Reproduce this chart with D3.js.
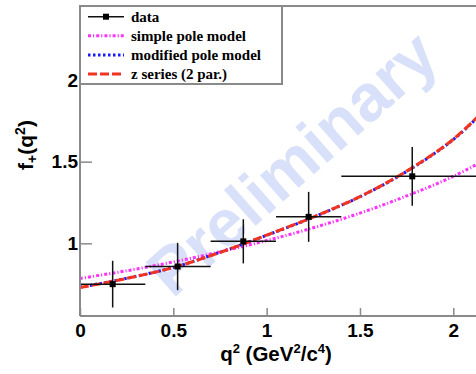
<!DOCTYPE html>
<html>
<head>
<meta charset="utf-8">
<script src="https://cdn.jsdelivr.net/npm/d3@7"></script>
<style>
  html, body { margin: 0; padding: 0; background: #fff; }
  svg { display: block; }
</style>
</head>
<body>
<svg id="chart" width="476" height="374"></svg>
<script>
// Measured form factor f+(q^2) per q^2 bin
const q2Center = [0.175, 0.523, 0.875, 1.225, 1.78];
const q2Low    = [0.0, 0.35, 0.70, 1.05, 1.40];
const q2High   = [0.35, 0.70, 1.05, 1.40, 2.16];
const fPlus    = [0.75, 0.858, 1.012, 1.162, 1.41];
const fPlusErr = [0.143, 0.145, 0.135, 0.153, 0.18];

// Fitted curves sampled along q^2
const curveQ2       = [0, 0.25, 0.5, 0.75, 1.0, 1.25, 1.5, 1.75, 2.0, 2.2];
const simplePole    = [0.785, 0.832, 0.886, 0.948, 1.017, 1.095, 1.185, 1.29, 1.41, 1.53];
const modifiedPole  = [0.731, 0.786, 0.852, 0.945, 1.049, 1.16, 1.285, 1.44, 1.635, 1.85];
const zSeries       = [0.729, 0.785, 0.852, 0.944, 1.05, 1.161, 1.286, 1.442, 1.637, 1.855];

// Axis ticks
const xTicks = [0, 0.5, 1, 1.5, 2];
const xTickLabels = ["0", "0.5", "1", "1.5", "2"];
const yTicks = [1, 1.5, 2];
const yTickLabels = ["1", "1.5", "2"];

const legendLabels = ["data", "simple pole model", "modified pole model", "z series (2 par.)"];

(function draw() {
  const svg = d3.select("#chart");
  const padL = 80, padT = 6, padB = 316, padR = 490;

  const x = d3.scaleLinear().domain([0, 2.2]).range([padL, padL + 2.2 * 186.65]);
  const y = d3.scaleLinear().domain([0.555, 2.453]).range([padB, padT]);

  const axisColor = "#8a8a8a";
  const sans = "Liberation Sans, Arial, Helvetica, sans-serif";

  svg.append("defs").append("clipPath").attr("id", "plotClip")
    .append("rect").attr("x", padL).attr("y", padT).attr("width", padR - padL).attr("height", padB - padT);

  // Watermark
  svg.append("text")
    .attr("transform", "translate(292,163) rotate(-41.5)")
    .attr("text-anchor", "middle")
    .attr("dominant-baseline", "central")
    .attr("font-family", sans)
    .attr("font-weight", "bold")
    .attr("font-size", 66)
    .attr("fill", "#d9e0f9")
    .text("Preliminary");

  const plot = svg.append("g").attr("clip-path", "url(#plotClip)");

  // Fit curves
  const line = d3.line().curve(d3.curveCatmullRom.alpha(0.5));
  const curves = [
    { vals: simplePole, color: "#ff33ff", dash: "3,2,1.2,2", width: 3 },
    { vals: modifiedPole, color: "#1a1aff", dash: "2.5,2.5", width: 3 },
    { vals: zSeries, color: "#f2331f", dash: "9,3", width: 3 }
  ];
  curves.forEach(c => {
    plot.append("path")
      .attr("d", line(curveQ2.map((q, i) => [x(q), y(c.vals[i])])))
      .attr("fill", "none")
      .attr("stroke", c.color)
      .attr("stroke-width", c.width)
      .attr("stroke-dasharray", c.dash);
  });

  // Data points with error bars
  const pts = plot.append("g").attr("stroke", "#111").attr("stroke-width", 1.5);
  q2Center.forEach((q, i) => {
    pts.append("line")
      .attr("x1", x(q2Low[i])).attr("x2", x(q2High[i]))
      .attr("y1", y(fPlus[i])).attr("y2", y(fPlus[i]));
    pts.append("line")
      .attr("x1", x(q)).attr("x2", x(q))
      .attr("y1", y(fPlus[i] - fPlusErr[i])).attr("y2", y(fPlus[i] + fPlusErr[i]));
    pts.append("rect")
      .attr("x", x(q) - 3).attr("y", y(fPlus[i]) - 3)
      .attr("width", 6).attr("height", 6)
      .attr("fill", "#000").attr("stroke", "none");
  });

  // Axes
  const xAxis = d3.axisBottom(x).tickValues(xTicks)
    .tickFormat((d, i) => xTickLabels[i]).tickSize(-8).tickPadding(8);
  const gx = svg.append("g").attr("transform", `translate(0,${padB})`).call(xAxis);
  gx.select(".domain").remove();
  gx.selectAll(".tick line").attr("stroke", axisColor).attr("stroke-width", 1.5);
  gx.selectAll(".tick text")
    .attr("fill", "#000")
    .attr("font-family", sans)
    .attr("font-weight", "bold")
    .attr("font-size", 19);

  const yAxis = d3.axisLeft(y).tickValues(yTicks)
    .tickFormat((d, i) => yTickLabels[i]).tickSize(-12).tickPadding(2);
  const gy = svg.append("g").attr("transform", `translate(${padL},0)`).call(yAxis);
  gy.select(".domain").remove();
  gy.selectAll(".tick line").attr("stroke", axisColor).attr("stroke-width", 1.5);
  gy.selectAll(".tick text")
    .attr("fill", "#000")
    .attr("font-family", sans)
    .attr("font-weight", "bold")
    .attr("font-size", 19);

  // Frame
  const frame = svg.append("g").attr("stroke", axisColor).attr("stroke-width", 2).attr("fill", "none");
  frame.append("line").attr("x1", padL).attr("x2", 476).attr("y1", padB).attr("y2", padB);
  frame.append("line").attr("x1", padL).attr("x2", padL).attr("y1", padT).attr("y2", padB);
  frame.append("line").attr("x1", padL).attr("x2", 476).attr("y1", padT).attr("y2", padT);

  // Axis titles
  const xt = svg.append("text")
    .attr("x", 276).attr("y", 361)
    .attr("text-anchor", "middle")
    .attr("font-family", sans)
    .attr("font-weight", "bold")
    .attr("font-size", 20.5)
    .attr("fill", "#000");
  xt.append("tspan").text("q");
  xt.append("tspan").attr("font-size", 13).attr("dy", -8).text("2");
  xt.append("tspan").attr("dy", 8).text(" (GeV");
  xt.append("tspan").attr("font-size", 13).attr("dy", -8).text("2");
  xt.append("tspan").attr("dy", 8).text("/c");
  xt.append("tspan").attr("font-size", 13).attr("dy", -8).text("4");
  xt.append("tspan").attr("dy", 8).text(")");

  const yt = svg.append("text")
    .attr("transform", "translate(33,145) rotate(-90)")
    .attr("text-anchor", "middle")
    .attr("font-family", sans)
    .attr("font-weight", "bold")
    .attr("font-size", 21)
    .attr("fill", "#000");
  yt.append("tspan").text("f");
  yt.append("tspan").attr("font-size", 14).attr("dy", 4).text("+");
  yt.append("tspan").attr("dy", -4).text("(q");
  yt.append("tspan").attr("font-size", 14).attr("dy", -8).text("2");
  yt.append("tspan").attr("dy", 8).text(")");

  // Legend
  const lg = svg.append("g");
  lg.append("rect")
    .attr("x", padL).attr("y", padT).attr("width", 202).attr("height", 78)
    .attr("fill", "#fff").attr("stroke", axisColor).attr("stroke-width", 2);
  const rowY = [16.7, 35.7, 55, 74];
  const sx1 = 88, sx2 = 124;
  lg.append("line").attr("x1", sx1).attr("x2", sx2).attr("y1", rowY[0]).attr("y2", rowY[0])
    .attr("stroke", "#111").attr("stroke-width", 1.5);
  lg.append("rect").attr("x", (sx1 + sx2) / 2 - 3).attr("y", rowY[0] - 3)
    .attr("width", 6).attr("height", 6).attr("fill", "#000");
  curves.forEach((c, i) => {
    lg.append("line").attr("x1", sx1).attr("x2", sx2).attr("y1", rowY[i + 1]).attr("y2", rowY[i + 1])
      .attr("stroke", c.color).attr("stroke-width", c.width).attr("stroke-dasharray", c.dash);
  });
  legendLabels.forEach((t, i) => {
    lg.append("text")
      .attr("x", 131).attr("y", rowY[i])
      .attr("dy", "0.35em")
      .attr("font-family", "Liberation Serif, Times New Roman, serif")
      .attr("font-weight", "bold")
      .attr("font-size", 15)
      .attr("fill", "#000")
      .text(t);
  });
})();
</script>
</body>
</html>
